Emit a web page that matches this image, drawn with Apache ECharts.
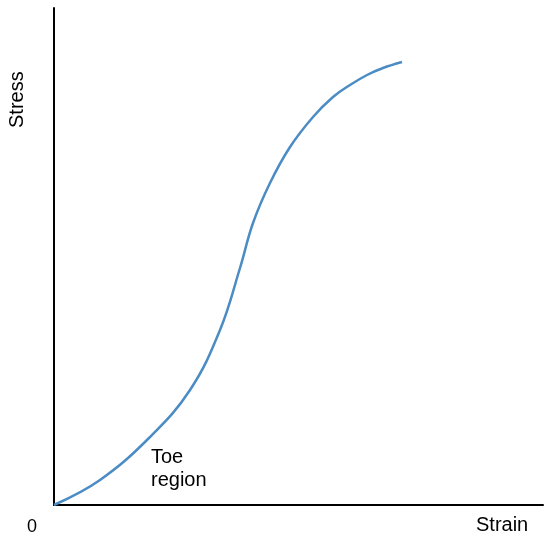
<!DOCTYPE html>
<html lang="en">
<head>
    <meta charset="UTF-8">
    <title>Stress-Strain</title>
    <script src="https://cdn.jsdelivr.net/npm/echarts@6/dist/echarts.min.js"></script>
    <style>
        html,body{ margin:0; padding:0; background:#fff; }
    </style>
</head>
<body>
<div id="main" style="width:544px;height:538px"></div>
<script>
    // 读图得到的曲线点（应变, 应力）
    var strain = [0, 46, 96, 136, 166, 186, 199, 216, 236, 259, 279, 296, 313, 329, 348];
    var stress = [0, 25, 68, 115, 175, 237, 282, 322, 358, 388, 408, 420, 430, 437, 443];

    var points = strain.map(function (x, i) { return [x, stress[i]]; });
    var font = '"Liberation Sans", Arial, sans-serif';

    var myChart = echarts.init(document.getElementById('main'));
    var option = {
        animation: false,
        grid: { left: 54, top: 8, right: 1, bottom: 33 },
        xAxis: {
            type: 'value', min: 0, max: 489,
            axisLine: { lineStyle: { color: '#000', width: 2 } },
            axisTick: { show: false }, axisLabel: { show: false }, splitLine: { show: false }
        },
        yAxis: {
            type: 'value', min: 0, max: 497,
            axisLine: { lineStyle: { color: '#000', width: 2 } },
            axisTick: { show: false }, axisLabel: { show: false }, splitLine: { show: false }
        },
        series: [{
            type: 'line',
            data: points,
            smooth: 0.4,
            showSymbol: false,
            lineStyle: { color: '#4b8cc5', width: 2.5 }
        }],
        graphic: [
            { type: 'text', x: 7, y: 128, rotation: Math.PI / 2,
              style: { text: 'Stress', font: '20px ' + font, fill: '#000' } },
            { type: 'text', x: 27, y: 518, style: { text: '0', font: '18px ' + font, fill: '#000' } },
            { type: 'text', x: 476, y: 515, style: { text: 'Strain', font: '20px ' + font, fill: '#000' } },
            { type: 'text', x: 151, y: 446, style: { text: 'Toe\nregion', font: '20px ' + font, fill: '#000', lineHeight: 23 } }
        ]
    };
    myChart.setOption(option);
</script>
</body>
</html>
